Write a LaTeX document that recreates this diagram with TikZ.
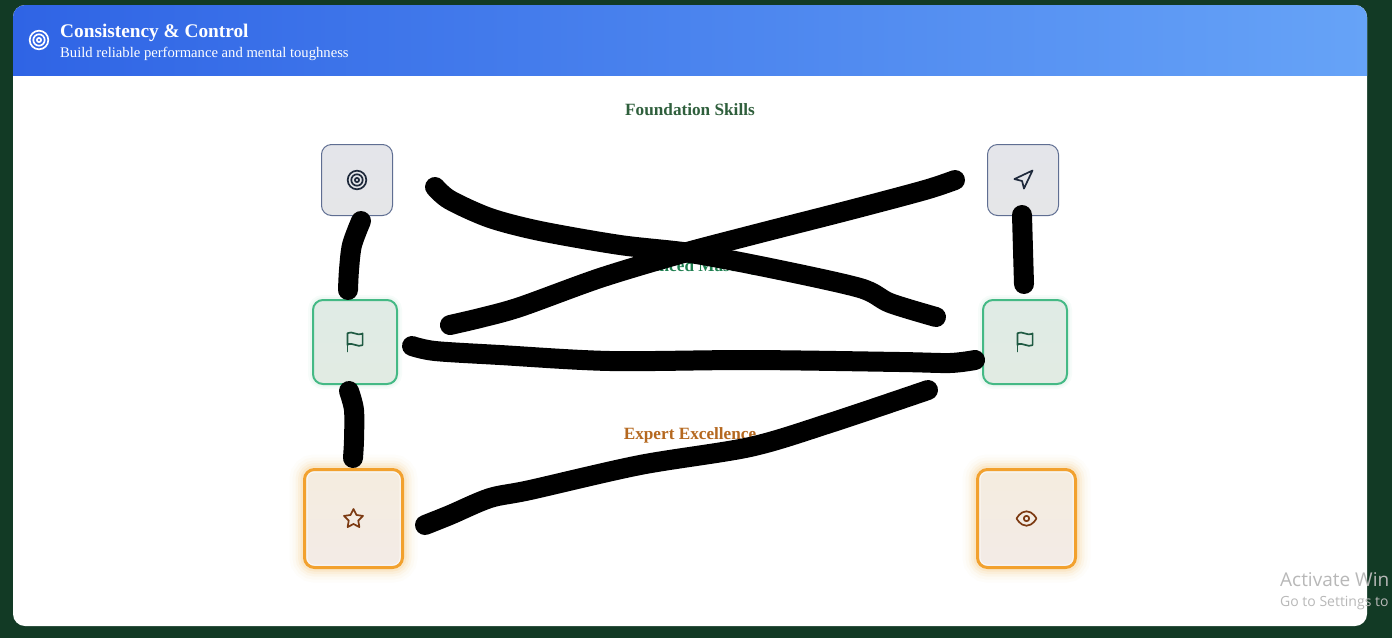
\documentclass[tikz,border=0pt]{standalone}
\usepackage{fontspec}
\setmainfont{Liberation Serif}
\newfontfamily\winfont{Open Sans}
\usetikzlibrary{calc}
\definecolor{pagegreen}{HTML}{123A25}
\definecolor{headA}{HTML}{2F64E5}
\definecolor{headB}{HTML}{66A3F7}
\definecolor{slateb}{HTML}{5F6E92}
\definecolor{slateA}{HTML}{E4E5EA}
\definecolor{slateB}{HTML}{E5E6E8}
\definecolor{greenb}{HTML}{44B985}
\definecolor{greenA}{HTML}{E0EBE5}
\definecolor{greenB}{HTML}{E1EBE3}
\definecolor{orangeb}{HTML}{F2A12E}
\definecolor{orangeA}{HTML}{F4ECDF}
\definecolor{orangeB}{HTML}{F3EBE6}
\definecolor{inkslate}{HTML}{1E293B}
\definecolor{inkgreen}{HTML}{1F5A42}
\definecolor{inkbrown}{HTML}{7C3A12}
\definecolor{titleF}{HTML}{2F5F3C}
\definecolor{titleA}{HTML}{1F7F50}
\definecolor{titleE}{HTML}{B5681F}
\tikzset{
  basebox/.style={minimum size=#1,inner sep=0pt,outer sep=0pt,rounded corners=10pt},
  slatebox/.style={basebox=71pt,draw=slateb,line width=1pt,top color=slateA,bottom color=slateB},
  greenbox/.style={basebox=84pt,draw=greenb,line width=2pt,top color=greenA,bottom color=greenB,
    preaction={draw=greenb,line width=6pt,draw opacity=.05},
    preaction={draw=greenb,line width=10pt,draw opacity=.04}},
  orangebox/.style={basebox=98pt,draw=orangeb,line width=3pt,top color=orangeA,bottom color=orangeB,
    preaction={draw=orangeb,line width=30pt,draw opacity=.02},
    preaction={draw=orangeb,line width=24pt,draw opacity=.03},
    preaction={draw=orangeb,line width=18pt,draw opacity=.05},
    preaction={draw=orangeb,line width=13pt,draw opacity=.07},
    preaction={draw=orangeb,line width=8pt,draw opacity=.10}},
  secttitle/.style={anchor=base,font=\bfseries\fontsize{17.2}{19}\selectfont,inner sep=0pt},
  scribble/.style={line width=20pt,line cap=round,line join=round,draw=black},
  ico/.style={line width=1.7pt,line cap=round,line join=round},
  icotarget/.pic={\begin{scope}[ico]
    \draw (0,0) circle (9.3); \draw (0,0) circle (5.7); \draw (0,0) circle (2.1);\end{scope}},
  iconav/.pic={\begin{scope}[ico,scale=.95,shift={(-12,-12)}]
    \draw (3,11) -- (22,2) -- (13,21) -- (11,13) -- cycle;\end{scope}},
  icoflag/.pic={\begin{scope}[ico,scale=.95,shift={(-12,-12)}]
    \draw (4,15) .. controls (5,14) and (6,14) .. (8,14) .. controls (11,14) and (13,16) .. (16,16)
      .. controls (19,16) and (20,15) .. (20,15) -- (20,3) .. controls (20,3) and (19,4) .. (16,4)
      .. controls (13,4) and (11,2) .. (8,2) .. controls (5,2) and (4,3) .. (4,3) -- cycle;
    \draw (4,22) -- (4,15);\end{scope}},
  icostar/.pic={\begin{scope}[ico,scale=.95,shift={(-12,-12)}]
    \draw (12,2) -- (15.09,8.26) -- (22,9.27) -- (17,14.14) -- (18.18,21.02) -- (12,17.77)
      -- (5.82,21.02) -- (7,14.14) -- (2,9.27) -- (8.91,8.26) -- cycle;\end{scope}},
  icoeye/.pic={\begin{scope}[ico,scale=.9,shift={(-12,-12)}]
    \draw (1,12) .. controls (1,12) and (5,4) .. (12,4) .. controls (19,4) and (23,12) .. (23,12)
      .. controls (23,12) and (19,20) .. (12,20) .. controls (5,20) and (1,12) .. (1,12) -- cycle;
    \draw (12,12) circle (3);\end{scope}},
}
\begin{document}
\begin{tikzpicture}[x=1pt,y=-1pt]
\useasboundingbox (0,0) rectangle (1392,638);
\fill[pagegreen] (0,0) rectangle (1392,638);
\fill[white,rounded corners=12pt] (13,5) rectangle (1367,626);
\begin{scope}
  \clip[rounded corners=12pt] (13,5) rectangle (1367,626);
  \shade[left color=headA,right color=headB] (13,5) rectangle (1367,75.6);
\end{scope}
\coordinate (hicon) at (39,40);
\pic[white] at (hicon) {icotarget};
\node[anchor=base west,inner sep=0pt,text=white,font=\bfseries\fontsize{19.3}{22}\selectfont] (htitle) at (60,37) {Consistency \& Control};
\node[anchor=base west,inner sep=0pt,text=white,font=\fontsize{14.65}{16}\selectfont] (hsub) at (60,57) {Build reliable performance and mental toughness};

\node[secttitle,text=titleF] (tfound) at (690,115.5) {Foundation Skills};
\node[secttitle,text=titleA] (tadv) at (690,271) {Advanced Mastery};
\node[secttitle,text=titleE] (texp) at (690,439.5) {Expert Excellence};

\node[slatebox] (a1) at (357,180) {};
\node[slatebox] (a2) at (1023,180) {};
\node[greenbox] (b1) at (355,342) {};
\node[greenbox] (b2) at (1025,342) {};
\node[orangebox] (c1) at (353.5,518.5) {};
\node[orangebox] (c2) at (1026.5,518.5) {};
\draw[white,opacity=.6,line width=1pt,rounded corners=7pt] ($(c1.south west)+(2.5,-2.5)$) rectangle ($(c1.north east)+(-2.5,2.5)$);
\draw[white,opacity=.6,line width=1pt,rounded corners=7pt] ($(c2.south west)+(2.5,-2.5)$) rectangle ($(c2.north east)+(-2.5,2.5)$);

\pic[color=inkslate] at (a1.center) {icotarget};
\pic[color=inkslate] at (a2.center) {iconav};
\pic[color=inkgreen] at (b1.center) {icoflag};
\pic[color=inkgreen] at (b2.center) {icoflag};
\pic[color=inkbrown] at (c1.center) {icostar};
\pic[color=inkbrown] at (c2.center) {icoeye};

\coordinate (s1a) at (361,221); \coordinate (s1b) at (348,290);
\coordinate (s2a) at (435,187); \coordinate (s2b) at (936,317);
\coordinate (s3a) at (955,180); \coordinate (s3b) at (450,325);
\coordinate (s4a) at (1022,215); \coordinate (s4b) at (1024,284);
\coordinate (s5a) at (412,346); \coordinate (s5b) at (975,360);
\coordinate (s6a) at (349,391); \coordinate (s6b) at (353,458);
\coordinate (s7a) at (425,525); \coordinate (s7b) at (928,390);
\draw[scribble] plot[smooth,tension=.5] coordinates {(s1a) (352,245) (349,270) (s1b)};
\draw[scribble] plot[smooth,tension=.5] coordinates {(s2a) (450,200) (490,218) (540,231) (620,245) (690,253) (770,268) (860,288) (890,303) (s2b)};
\draw[scribble] plot[smooth,tension=.5] coordinates {(s3a) (925,190) (850,210) (760,233) (680,254) (600,278) (520,307) (480,318) (s3b)};
\draw[scribble] plot[smooth,tension=.5] coordinates {(s4a) (1023,250) (s4b)};
\draw[scribble] plot[smooth,tension=.5] coordinates {(s5a) (435,351) (500,355) (610,361) (750,360) (900,362) (950,363) (s5b)};
\draw[scribble] plot[smooth,tension=.5] coordinates {(s6a) (354,410) (354,440) (s6b)};
\draw[scribble] plot[smooth,tension=.5] coordinates {(s7a) (450,515) (490,498) (530,490) (640,465) (750,447) (830,423) (s7b)};

\node[anchor=base west,inner sep=0pt,text=black!28,font=\winfont\fontsize{19}{22}\selectfont] (wa) at (1280,586) {Activate Win};
\node[anchor=base west,inner sep=0pt,text=black!28,font=\winfont\fontsize{14}{16}\selectfont] (wb) at (1280,606) {Go to Settings to};
\end{tikzpicture}
\end{document}
